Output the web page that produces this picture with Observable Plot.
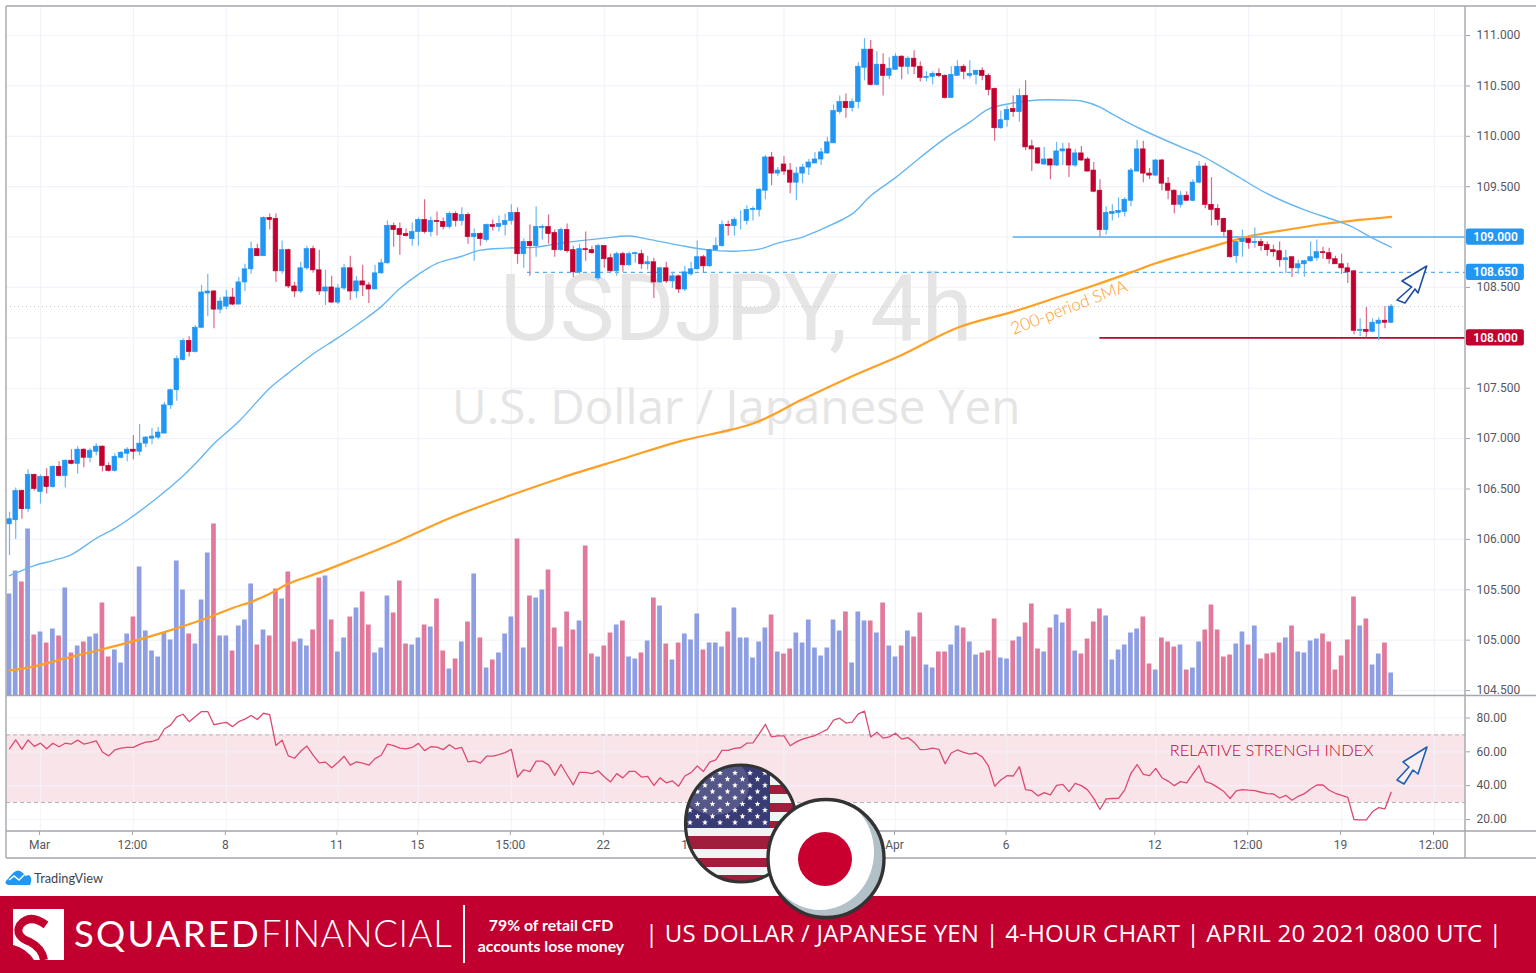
<!DOCTYPE html>
<html><head><meta charset="utf-8">
<script src="https://cdn.jsdelivr.net/npm/d3@7"></script>
<script src="https://cdn.jsdelivr.net/npm/@observablehq/plot@0.6"></script>
<style>
html,body{margin:0;padding:0;background:#fff;}
#page{position:relative;width:1536px;height:973px;overflow:hidden;font-family:Roboto,sans-serif;}
#page>svg,#page>div{position:absolute;}
#main{left:0;top:0;}
#rsi{left:0;top:696px;}
.abs{position:absolute;white-space:nowrap;}
#tv{left:34px;top:870px;font:12.8px Lato,sans-serif;color:#3f4450;}
#banner{left:0;top:896px;width:1536px;height:77px;background:#c10030;color:#fff;}
</style></head>
<body><div id="page">
<div id="main"></div><div id="rsi"></div>
<div id="tv" class="abs">TradingView</div>
<div id="banner">
 <div class="abs" style="left:74px;top:15px;font:400 36.5px Lato,sans-serif;letter-spacing:2.2px">SQUARED<span style="font-weight:300;letter-spacing:.6px">FINANCIAL</span></div>
 <div class="abs" style="left:463px;top:9px;width:1.5px;height:58px;background:#fff"></div>
 <div class="abs" style="left:476px;width:150px;top:18px;text-align:center;font:700 15.8px Lato,sans-serif;line-height:21px">79% of retail CFD<br>accounts lose money</div>
 <div class="abs" style="left:645px;top:20px;font:400 24px 'Open Sans',sans-serif;letter-spacing:.2px">| US DOLLAR / JAPANESE YEN | 4-HOUR CHART | APRIL 20 2021 0800 UTC |</div>
</div>
</div>
<script>
const openP=[
106.15,106.19,106.48,106.30,106.64,106.47,106.62,106.52,106.72,106.63,
106.78,106.75,106.89,106.81,106.87,106.92,106.73,106.68,106.81,106.85,
106.89,106.87,106.95,107.00,107.01,107.05,107.33,107.48,107.78,107.97,
107.86,108.10,108.44,108.46,108.28,108.31,108.40,108.33,108.55,108.68,
108.88,108.81,109.19,109.18,108.66,108.87,108.51,108.46,108.69,108.88,
108.67,108.46,108.50,108.35,108.49,108.69,108.46,108.56,108.52,108.48,
108.64,108.74,109.11,109.08,109.03,108.98,109.05,109.17,109.05,109.16,
109.15,109.10,109.23,109.16,109.22,109.00,109.03,108.97,109.12,109.10,
109.12,109.16,109.24,108.83,108.95,108.91,109.09,109.10,109.04,108.87,
109.07,108.87,108.65,108.88,108.87,108.59,108.91,108.79,108.66,108.83,
108.72,108.83,108.83,108.73,108.75,108.55,108.69,108.56,108.61,108.48,
108.63,108.68,108.80,108.71,108.87,108.91,109.12,109.11,109.17,109.16,
109.27,109.27,109.46,109.79,109.63,109.72,109.66,109.54,109.63,109.69,
109.73,109.77,109.83,109.93,110.24,110.34,110.28,110.34,110.68,110.86,
110.51,110.71,110.60,110.66,110.79,110.69,110.77,110.69,110.58,110.59,
110.62,110.60,110.38,110.60,110.69,110.60,110.61,110.65,110.60,110.47,
110.08,110.16,110.27,110.24,110.40,109.90,109.88,109.72,109.77,109.71,
109.85,109.87,109.71,109.83,109.77,109.66,109.46,109.07,109.23,109.24,
109.25,109.36,109.65,109.87,109.63,109.61,109.76,109.53,109.46,109.32,
109.41,109.36,109.54,109.70,109.32,109.28,109.18,109.06,108.81,108.95,
108.98,108.94,108.95,108.92,108.87,108.86,108.77,108.80,108.69,108.73,
108.76,108.79,108.85,108.84,108.78,108.73,108.69,108.66,108.07,108.08,
108.06,108.14,108.17,108.15];
const closeP=[
106.20,106.48,106.30,106.64,106.50,106.62,106.52,106.72,106.63,106.78,
106.75,106.89,106.81,106.88,106.92,106.73,106.68,106.82,106.86,106.89,
106.87,106.95,107.01,107.02,107.06,107.33,107.48,107.79,107.97,107.86,
108.10,108.45,108.46,108.28,108.36,108.40,108.33,108.55,108.68,108.88,
108.81,109.19,109.17,108.66,108.87,108.51,108.46,108.69,108.88,108.67,
108.46,108.50,108.35,108.49,108.69,108.46,108.56,108.52,108.48,108.64,
108.74,109.11,109.07,109.02,109.01,109.05,109.17,109.05,109.16,109.15,
109.10,109.23,109.16,109.22,109.00,109.03,108.98,109.12,109.10,109.13,
109.16,109.24,108.83,108.95,108.91,109.10,109.10,109.03,108.87,109.07,
108.86,108.65,108.88,108.87,108.84,108.91,108.78,108.66,108.83,108.72,
108.83,108.84,108.73,108.75,108.55,108.69,108.56,108.61,108.48,108.65,
108.68,108.80,108.71,108.87,108.91,109.12,109.11,109.17,109.17,109.27,
109.28,109.47,109.79,109.63,109.66,109.65,109.54,109.63,109.69,109.74,
109.77,109.84,109.94,110.25,110.34,110.28,110.34,110.69,110.86,110.51,
110.71,110.60,110.67,110.79,110.69,110.77,110.69,110.58,110.59,110.62,
110.60,110.38,110.61,110.69,110.64,110.62,110.65,110.60,110.46,110.08,
110.16,110.26,110.24,110.40,109.89,109.87,109.73,109.77,109.71,109.85,
109.87,109.71,109.83,109.76,109.65,109.45,109.07,109.24,109.25,109.26,
109.37,109.66,109.87,109.63,109.61,109.76,109.53,109.46,109.32,109.41,
109.36,109.54,109.70,109.32,109.27,109.17,109.05,108.80,108.95,108.98,
108.94,108.95,108.91,108.87,108.85,108.77,108.79,108.69,108.73,108.76,
108.80,108.85,108.84,108.78,108.73,108.69,108.65,108.07,108.08,108.06,
108.15,108.17,108.15,108.31];
const highP=[
106.27,106.51,106.49,106.69,106.65,106.64,106.70,106.73,106.77,106.79,
106.89,106.92,106.90,106.90,106.95,106.93,106.76,106.85,106.87,106.91,
107.03,107.14,107.02,107.10,107.11,107.36,107.49,107.82,107.99,108.01,
108.12,108.52,108.63,108.47,108.40,108.47,108.49,108.60,108.73,108.95,
108.93,109.20,109.23,109.23,108.96,108.88,108.55,108.75,108.91,108.91,
108.87,108.67,108.61,108.53,108.73,108.81,108.61,108.72,108.55,108.72,
108.78,109.16,109.14,109.14,109.08,109.14,109.19,109.37,109.20,109.25,
109.19,109.25,109.25,109.29,109.24,109.08,109.04,109.13,109.17,109.21,
109.23,109.32,109.29,108.98,109.12,109.30,109.12,109.22,109.07,109.09,
109.13,108.91,108.93,109.05,108.91,108.93,108.91,108.83,108.85,108.85,
108.85,108.85,108.87,108.81,108.79,108.70,108.75,108.65,108.62,108.71,
108.75,108.96,108.82,108.88,108.99,109.16,109.16,109.19,109.26,109.31,
109.30,109.48,109.81,109.84,109.69,109.80,109.73,109.69,109.72,109.77,
109.84,109.88,109.99,110.31,110.40,110.42,110.37,110.73,110.97,110.95,
110.84,110.82,110.78,110.82,110.80,110.79,110.85,110.74,110.64,110.64,
110.67,110.61,110.69,110.75,110.71,110.75,110.65,110.68,110.62,110.48,
110.25,110.30,110.40,110.47,110.55,109.96,109.89,109.89,109.78,109.94,
109.93,109.93,109.87,109.90,109.79,109.74,109.57,109.30,109.32,109.39,
109.39,109.68,109.96,109.95,109.68,109.77,109.77,109.59,109.47,109.45,
109.45,109.57,109.75,109.73,109.59,109.32,109.19,109.07,108.95,109.07,
109.00,109.09,108.98,108.95,108.92,108.95,108.87,108.80,108.77,108.77,
108.95,108.97,108.90,108.89,108.81,108.83,108.74,108.67,108.19,108.30,
108.19,108.20,108.31,108.33];
const lowP=[
105.84,106.00,106.20,106.27,106.48,106.35,106.45,106.51,106.62,106.51,
106.74,106.65,106.71,106.76,106.83,106.67,106.67,106.67,106.80,106.77,
106.79,106.83,106.91,106.94,106.99,107.05,107.29,107.37,107.77,107.81,
107.85,108.09,108.21,108.09,108.24,108.28,108.32,108.33,108.46,108.63,
108.81,108.81,109.07,108.55,108.63,108.49,108.40,108.44,108.67,108.64,
108.42,108.32,108.34,108.33,108.47,108.37,108.39,108.41,108.34,108.48,
108.63,108.73,108.90,108.82,109.00,108.91,108.91,109.03,109.00,109.01,
109.07,109.08,109.10,109.11,108.93,108.76,108.91,108.95,109.06,109.05,
109.01,109.12,108.73,108.69,108.61,108.80,108.97,108.93,108.80,108.86,
108.84,108.60,108.63,108.76,108.83,108.57,108.69,108.65,108.61,108.65,
108.71,108.74,108.68,108.67,108.39,108.54,108.54,108.49,108.44,108.46,
108.61,108.67,108.64,108.70,108.86,108.90,109.01,109.01,109.07,109.12,
109.16,109.20,109.37,109.51,109.60,109.61,109.43,109.36,109.53,109.61,
109.73,109.71,109.82,109.93,110.22,110.18,110.24,110.27,110.55,110.50,
110.50,110.40,110.56,110.66,110.56,110.61,110.61,110.54,110.54,110.51,
110.58,110.37,110.38,110.60,110.56,110.57,110.51,110.55,110.40,109.95,
110.07,110.09,110.19,110.14,109.86,109.65,109.72,109.71,109.57,109.70,
109.71,109.59,109.69,109.75,109.65,109.44,109.00,109.02,109.16,109.19,
109.20,109.30,109.65,109.54,109.57,109.60,109.46,109.37,109.23,109.29,
109.36,109.35,109.53,109.28,109.11,109.11,109.00,108.79,108.74,108.80,
108.88,108.89,108.86,108.81,108.80,108.70,108.64,108.60,108.63,108.60,
108.75,108.76,108.78,108.73,108.73,108.63,108.54,108.03,108.01,108.00,
108.05,107.97,108.09,108.14];
const volume=[
102,125,114,167,61,64,53,67,60,108,
43,50,54,59,62,93,39,46,33,62,
79,129,65,45,39,63,56,135,106,62,
52,96,143,172,60,60,45,70,76,112,
51,66,60,107,97,124,54,57,50,66,
118,120,76,44,58,79,88,104,71,43,
48,100,83,115,52,51,58,71,69,97,
45,27,37,54,74,122,58,28,36,43,
62,79,157,48,100,98,106,126,68,49,
84,66,75,150,42,39,50,63,71,75,
39,37,43,55,98,90,52,36,53,62,
56,82,46,53,53,49,64,88,58,58,
38,54,68,81,44,42,47,63,53,76,
48,40,48,76,65,84,33,84,75,75,
63,93,50,39,50,65,59,83,31,28,
44,44,51,70,68,54,41,43,45,77,
38,37,55,59,73,92,47,44,68,81,
73,87,45,42,57,74,87,80,36,46,
51,63,67,79,32,26,58,54,49,51,
26,28,54,66,91,66,39,41,52,64,
51,70,37,42,43,53,58,70,44,43,
55,57,62,54,26,40,56,99,70,77,
31,42,53,23];
const rsiVal=[
61.8,67,61.5,67,63.2,65.1,61.8,65.1,63,65.1,
64.6,66.9,64.6,65.5,66.5,59.9,57.6,61.1,62.2,62.6,
62.6,64.4,65.7,66.1,67.3,73.5,75.8,80.7,82.2,77.8,
80.9,83.8,83.8,76,76.8,77.4,74.9,77.8,79.3,81.5,
79.1,82.8,82,63.8,66.9,57.6,56.2,60.3,63.4,58,
53.5,53.9,50.6,53.7,57.4,52.1,54.1,53.3,52.1,56,
58,64.6,63.6,62.2,61.8,62.6,65,60.7,63,62.8,
61.3,64.2,61.7,62.6,54.1,54.7,53.3,57.4,57.4,58.3,
59.5,61.5,45.1,49.4,48.3,54.5,54.5,52.3,46.1,52.5,
46.3,40.5,47.9,47.9,47.1,48.8,45.3,42.2,47.1,44.6,
48.4,48.4,45.1,45.5,40.1,44.6,41.7,42.8,39.7,45.7,
47.7,51.6,48.4,53.9,55.2,60.9,60.9,62,62.4,65.1,
65.3,70.6,76.2,68.8,69.4,69.4,63.6,65.9,67.5,68.6,
69.6,71.4,73.3,78.7,79.9,77,77.6,82.4,84,68.8,
71.6,68.1,68.8,71,67.5,68.4,65.7,61.3,61.5,62.2,
61.5,52.9,59.3,61.1,59.7,58.7,59.3,57,51.7,39.7,
43.3,45.9,45.7,51.2,37.6,37,34,35.9,34.5,40.2,
40.8,36.5,41.4,40,37.5,32.5,25.9,32.2,32.4,32.5,
37.5,47.3,52.5,46.7,45.9,50.2,44.7,42.7,40,42.4,
41.6,46.9,51.8,42.4,41.2,39,36.5,32.4,36.9,37.6,
37.3,37.1,36.1,35.3,35.1,32.7,34.3,31.4,33.7,35.3,
38,40.4,40.4,37.3,35.5,34.3,33.1,20,19.8,19.8,
24.7,27,26.3,36.1];
const ma50Idx=[0,2,4,7,10,14,17,19,24,28,30,33,37,42,45,49,53,57,60,63,66,69,73,76,80,85,88,93,96,100,103,108,113,117,121,124,128,130,136,139,143,147,151,155,158,162,166,170,173,176,178,181,183,190,192,198,203,209,216,220,223];
const ma50Val=[105.64,105.69,105.74,105.79,105.85,106.01,106.11,106.19,106.42,106.63,106.75,106.95,107.17,107.50,107.65,107.84,108.00,108.17,108.31,108.49,108.63,108.74,108.81,108.87,108.89,108.90,108.93,108.97,108.99,109.01,108.98,108.92,108.87,108.86,108.88,108.94,109.00,109.05,109.23,109.41,109.59,109.79,109.98,110.14,110.27,110.33,110.36,110.36,110.35,110.29,110.22,110.12,110.06,109.87,109.82,109.61,109.43,109.27,109.12,108.99,108.90];
const sma200Idx=[0,4,9,15,20,25,31,36,39,42,45,50,55,63,71,81,89,99,108,120,128,136,144,153,162,170,175,181,185,191,196,201,207,212,218,223];
const sma200Val=[104.70,104.74,104.82,104.91,104.99,105.08,105.20,105.32,105.38,105.46,105.56,105.67,105.79,105.99,106.21,106.44,106.61,106.80,106.97,107.15,107.39,107.62,107.83,108.10,108.26,108.42,108.52,108.65,108.74,108.85,108.94,109.02,109.08,109.13,109.17,109.20];
const priceTicks=[104.5,105,105.5,106,106.5,107,107.5,108,108.5,109,109.5,110,110.5,111];
const rsiTicks=[20,40,60,80];
const timeIdx=[5,20,35,53,66,81,96,111,125,143,161,185,200,215,230];
const timeLabels=["Mar","12:00","8","11","15","15:00","22","15:00","29","Apr","6","12","12:00","19","12:00"];
const levels=[109,108.65,108];
const levelStart=[162,83.6,176];
const levelColor=["#2196f3","#2196f3","#c2002f"];
const lastPrice=108.31;

const BLUE="#2196f3",RED="#c2002f",WBLUE="#6cb8f4",WRED="#dd6a87",VBLUE="#8d9fe2",VRED="#e2799a",GRID="#f1f3fa",TXT="#55585f";
const candles=openP.map((o,i)=>({i,o,c:closeP[i],h:highP[i],l:lowP[i],v:volume[i]}));
const up=candles.filter(d=>d.c>=d.o),dn=candles.filter(d=>d.c<d.o);
const ma50=ma50Idx.map((x,k)=>({x,y:ma50Val[k]}));
const sma200=sma200Idx.map((x,k)=>({x,y:sma200Val[k]}));
const volBase=104.446,volToPrice=1/100.77;
const xScale={domain:[-0.484,235],range:[6,1465],axis:null};
const fmt=Object.fromEntries(timeIdx.map((d,k)=>[d,timeLabels[k]]));
const body=(data,fill)=>Plot.rect(data,{x1:d=>d.i-.37,x2:d=>d.i+.37,y1:"o",y2:"c",fill,stroke:fill,strokeWidth:.7});
const wick=(data,stroke)=>Plot.ruleX(data,{x:"i",y1:"l",y2:"h",stroke,strokeWidth:1.2});
const vbar=(data,fill)=>Plot.rect(data,{x1:d=>d.i-.38,x2:d=>d.i+.38,y1:volBase,y2:d=>volBase+d.v*volToPrice,fill});

const mainPlot=Plot.plot({
  width:1536,height:696,marginLeft:6,marginRight:71,marginTop:6,marginBottom:0,
  x:xScale,y:{domain:[104.446,111.288],range:[695.5,6],label:null},
  style:{background:"transparent",fontFamily:"Roboto,sans-serif",fontSize:"12px",overflow:"visible"},
  marks:[
    Plot.ruleY(priceTicks,{x1:-0.484,x2:235,stroke:GRID,strokeWidth:1.2}),
    Plot.ruleX(timeIdx,{stroke:GRID,strokeWidth:1.2}),
    Plot.text(["USDJPY, 4h"],{x:117.3,y:107.98,text:d=>d,fontSize:92,fontFamily:"Roboto,sans-serif",fill:"#e5e5e5",lineAnchor:"bottom"}),
    Plot.text(["U.S. Dollar / Japanese Yen"],{x:117.3,y:107.15,text:d=>d,fontSize:47.6,fontFamily:"'Open Sans',sans-serif",fill:"#e5e5e5",lineAnchor:"bottom"}),
    vbar(up,VBLUE),vbar(dn,VRED),
    Plot.ruleY([lastPrice],{x1:-0.484,x2:235,stroke:"#c4c4c4",strokeWidth:1,strokeDasharray:"1,3"}),
    Plot.ruleY(levels.slice(0,1),{x1:levelStart[0],x2:235,stroke:"#52aef5",strokeWidth:1.4}),
    Plot.ruleY(levels.slice(1,2),{x1:levelStart[1],x2:235,stroke:"#52aef5",strokeWidth:1.2,strokeDasharray:"4,4"}),
    Plot.ruleY(levels.slice(2,3),{x1:levelStart[2],x2:235,stroke:RED,strokeWidth:1.8}),
    Plot.line(sma200,{x:"x",y:"y",stroke:"#ffa024",strokeWidth:2.2,curve:"catmull-rom"}),
    Plot.line(ma50,{x:"x",y:"y",stroke:"#66b6f2",strokeWidth:1.4,curve:"catmull-rom"}),
    wick(up,WBLUE),wick(dn,WRED),body(up,BLUE),body(dn,RED),
    Plot.text(["200-period SMA"],{x:171,y:108.30,text:d=>d,fontSize:17,fontFamily:"Lato,sans-serif",fontWeight:300,fill:"#ff9a1f",rotate:-21}),
    Plot.axisY({anchor:"right",ticks:priceTicks.filter(t=>t!==109&&t!==108),tickFormat:d3.format(".3f"),tickSize:4,tickPadding:7,label:null,stroke:"#9ea3ab",fill:TXT,fontSize:12}),
    Plot.rect(levels,{x1:235.16,x2:244.5,y1:d=>d-.08,y2:d=>d+.08,fill:(d,k)=>levelColor[k],r:2}),
    Plot.text(levels,{x:239.85,y:d=>d,text:d3.format(".3f"),fill:"#fff",fontSize:12,fontWeight:600})
  ]
});
document.getElementById("main").appendChild(mainPlot);

const rsiPlot=Plot.plot({
  width:1536,height:162,marginLeft:6,marginRight:71,marginTop:0,marginBottom:27,
  x:{domain:xScale.domain,range:xScale.range,label:null},
  y:{domain:[12.9,92.7],range:[135,0],label:null},
  style:{background:"transparent",fontFamily:"Roboto,sans-serif",fontSize:"12px",overflow:"visible"},
  marks:[
    Plot.rect([[30,70]],{x1:-0.484,x2:235,y1:d=>d[0],y2:d=>d[1],fill:"#f9e4ea"}),
    Plot.ruleY(rsiTicks,{x1:-0.484,x2:235,stroke:GRID,strokeOpacity:.8,strokeWidth:1.2}),
    Plot.ruleX(timeIdx,{stroke:GRID,strokeOpacity:.8,strokeWidth:1.2}),
    Plot.ruleY([30,70],{x1:-0.484,x2:235,stroke:"#b0b0b4",strokeWidth:1,strokeDasharray:"4,3"}),
    Plot.line(rsiVal.map((y,x)=>({x,y})),{x:"x",y:"y",stroke:"#dc4a70",strokeWidth:1.3}),
    Plot.text(["RELATIVE STRENGH INDEX"],{x:203.7,y:60.6,text:d=>d,fontSize:16.4,fontFamily:"Lato,sans-serif",fontWeight:300,fill:RED}),
    Plot.axisY({anchor:"right",ticks:rsiTicks,tickFormat:d3.format(".2f"),tickSize:4,tickPadding:7,label:null,stroke:"#9ea3ab",fill:TXT,fontSize:12}),
    Plot.axisX({anchor:"bottom",ticks:timeIdx,tickFormat:d=>fmt[d],tickSize:4,tickPadding:5,label:null,stroke:"#9ea3ab",fill:TXT,fontSize:12,dx:-1})
  ]
});
document.getElementById("rsi").appendChild(rsiPlot);

/* decoration: frame, arrows, logos and flags */
function starPts(cx,cy,r){let p=[];for(let k=0;k<10;k++){const a=-Math.PI/2+k*Math.PI/5,q=k%2?r*.42:r;p.push((cx+q*Math.cos(a)).toFixed(1)+","+(cy+q*Math.sin(a)).toFixed(1));}return p.join(" ");}
let stars="";
for(let row=0;row<9;row++){const y=773+row*6.2;for(let c=0;c<7;c++){const x=690+c*15+(row%2?7.5:0);if(x<768)stars+=`<polygon points="${starPts(x,y,3.1)}" fill="#fff"/>`;}}
const stripes=[[785,9],[803,9],[821,7],[836,13],[858,9],[875,9]].map(([y,h])=>`<rect x="680" y="${y}" width="125" height="${h}" fill="#a11d3c"/>`).join("");
const frame=[[6,6,1536,6],[6,6,6,858],[6,858,1536,858],[1465,6,1465,858],[6,695.5,1536,695.5],[6,831,1536,831]].map(l=>`<line x1="${l[0]}" y1="${l[1]}" x2="${l[2]}" y2="${l[3]}" stroke="#a3a6ad" stroke-width="1.4"/>`).join("");
const overlay=`<svg xmlns="http://www.w3.org/2000/svg" width="1536" height="973" style="left:0;top:0;pointer-events:none">
<defs><clipPath id="us"><ellipse cx="741" cy="823.5" rx="55" ry="58"/></clipPath><clipPath id="jp"><ellipse cx="826" cy="858.5" rx="58" ry="59"/></clipPath></defs>
${frame}
<polygon points="1426.7,266 1418,293 1415,289 1405,303 1397,300 1411.7,287 1402,281" fill="#fff" fill-opacity=".6" stroke="#1f4f9f" stroke-width="1.6" stroke-linejoin="round"/>
<polygon points="1427,747 1418,774 1413,770 1404,784 1397,780 1409,767 1403,762" fill="#fff" fill-opacity=".4" stroke="#1c5fb5" stroke-width="1.6" stroke-linejoin="round"/>
<path d="M6 881 L13 873 Q18 868 23 873 L25 876 L29 875 Q33 878 30 885 L9 885 Q4 884 6 881Z" fill="#2196f3"/><path d="M9 880 L14 876 L19 880 L24 875" fill="none" stroke="#fff" stroke-width="1.5"/>
<g clip-path="url(#us)"><rect x="680" y="760" width="125" height="125" fill="#f3f3f3"/>${stripes}<rect x="680" y="760" width="90" height="68" fill="#393c74"/>${stars}
<ellipse cx="715" cy="785" rx="34" ry="30" fill="#fff" opacity=".14"/><path d="M686 860 Q740 905 797 860 L797 890 L686 890Z" fill="#1e1e1e" opacity=".25"/></g>
<ellipse cx="741" cy="823.5" rx="55.5" ry="58.5" fill="none" stroke="#333" stroke-width="3.2"/>
<ellipse cx="826" cy="858.5" rx="58" ry="59" fill="#b2c0c7"/>
<g clip-path="url(#jp)"><ellipse cx="820" cy="852" rx="54" ry="58" fill="#fff"/></g>
<ellipse cx="826" cy="858.5" rx="58" ry="59" fill="none" stroke="#333" stroke-width="3.4"/>
<ellipse cx="825" cy="859" rx="27" ry="27" fill="#c9002f"/>
<rect x="13" y="909" width="51" height="51" fill="#fff"/>
<path d="M46 925 Q30 913 20 925 Q14 936 30 942 Q42 948 44 960" fill="none" stroke="#c10030" stroke-width="8"/>
<path d="M13 945 Q26 948 34 960 L13 960Z" fill="#c10030"/>
</svg>`;
document.getElementById("page").insertAdjacentHTML("beforeend",overlay);
</script>
</body></html>
